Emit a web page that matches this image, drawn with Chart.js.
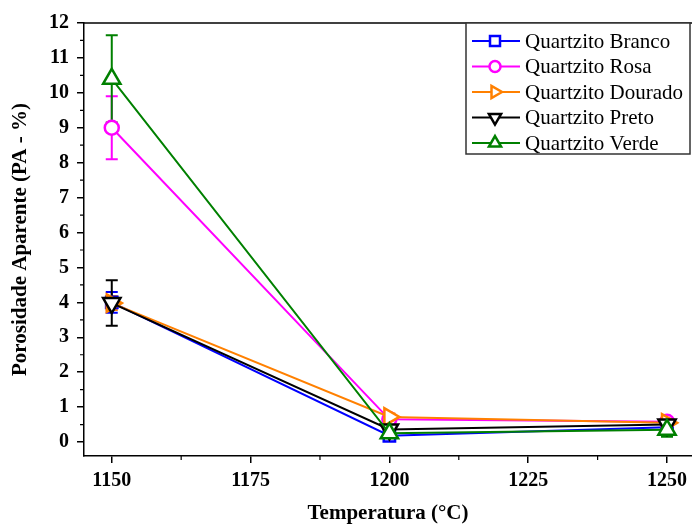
<!DOCTYPE html>
<html>
<head>
<meta charset="utf-8">
<script src="https://cdn.jsdelivr.net/npm/chart.js@4.4.1/dist/chart.umd.min.js"></script>
<style>
html, body { margin: 0; padding: 0; background: #fff; }
</style>
</head>
<body>
<canvas id="myChart" width="692" height="524"></canvas>
<script>
// temperatures (°C)
const temps = [1150, 1200, 1250];

const names = ['Quartzito Branco', 'Quartzito Rosa', 'Quartzito Dourado', 'Quartzito Preto', 'Quartzito Verde'];

// porosidade aparente (%) and error
const branco = [4.0, 0.18, 0.42];
const brancoErr = [0.3, 0.1, 0.1];
const rosa = [9.0, 0.65, 0.58];
const rosaErr = [0.9, 0.08, 0.08];
const dourado = [3.98, 0.72, 0.55];
const douradoErr = [0.2, 0.1, 0.08];
const preto = [3.98, 0.36, 0.5];
const pretoErr = [0.65, 0.1, 0.1];
const verde = [10.4, 0.25, 0.35];
const verdeErr = [1.25, 0.15, 0.2];

const xTicks = [1150, 1175, 1200, 1225, 1250];
const xMinor = [1162.5, 1187.5, 1212.5, 1237.5];
const yTicks = [0, 1, 2, 3, 4, 5, 6, 7, 8, 9, 10, 11, 12];
const yMinor = [0.5, 1.5, 2.5, 3.5, 4.5, 5.5, 6.5, 7.5, 8.5, 9.5, 10.5, 11.5];

const colors = ['#0000FF', '#FF00FF', '#FF8000', '#000000', '#008000'];
const styles = [
	{ pointStyle: 'rect', radius: 8, rotation: 0 },
	{ pointStyle: 'circle', radius: 7, rotation: 0 },
	{ pointStyle: 'triangle', radius: 10, rotation: 90 },
	{ pointStyle: 'triangle', radius: 10, rotation: 180 },
	{ pointStyle: 'triangle', radius: 10, rotation: 0 }
];
const values = [branco, rosa, dourado, preto, verde];
const errors = [brancoErr, rosaErr, douradoErr, pretoErr, verdeErr];

const serif = "'Liberation Serif', 'Times New Roman', serif";

const datasets = names.map((n, i) => ({
	label: n,
	data: temps.map((t, j) => ({ x: t, y: values[i][j] })),
	err: errors[i],
	borderColor: colors[i],
	borderWidth: 2,
	pointStyle: styles[i].pointStyle,
	pointRadius: styles[i].radius,
	pointRotation: styles[i].rotation,
	pointBorderWidth: 2.5,
	pointBackgroundColor: '#fff',
	pointBorderColor: colors[i],
	tension: 0,
	clip: false,
	order: names.length - i
}));

const errorBars = {
	id: 'errorBars',
	beforeDatasetsDraw(chart) {
		const ctx = chart.ctx;
		const xs = chart.scales.x, ys = chart.scales.y;
		chart.data.datasets.forEach(ds => {
			ctx.save();
			ctx.strokeStyle = ds.borderColor;
			ctx.lineWidth = 2;
			ds.data.forEach((p, j) => {
				const px = xs.getPixelForValue(p.x);
				const top = ys.getPixelForValue(p.y + ds.err[j]);
				const bot = ys.getPixelForValue(p.y - ds.err[j]);
				ctx.beginPath();
				ctx.moveTo(px, top); ctx.lineTo(px, bot);
				ctx.moveTo(px - 6, top); ctx.lineTo(px + 6, top);
				ctx.moveTo(px - 6, bot); ctx.lineTo(px + 6, bot);
				ctx.stroke();
			});
			ctx.restore();
		});
	}
};

function marker(ctx, style, r, rot, x, y) {
	ctx.beginPath();
	if (style === 'circle') {
		ctx.arc(x, y, r, 0, Math.PI * 2);
	} else if (style === 'rect') {
		ctx.rect(x - r, y - r, 2 * r, 2 * r);
	} else {
		let a = rot * Math.PI / 180;
		for (let k = 0; k < 3; k++) {
			const px = x + Math.sin(a) * r, py = y - Math.cos(a) * r;
			k === 0 ? ctx.moveTo(px, py) : ctx.lineTo(px, py);
			a += 2 * Math.PI / 3;
		}
		ctx.closePath();
	}
	ctx.fill();
	ctx.stroke();
}

const frame = {
	id: 'frame',
	afterDraw(chart) {
		const ctx = chart.ctx;
		const a = chart.chartArea;
		const xs = chart.scales.x, ys = chart.scales.y;
		ctx.save();
		ctx.strokeStyle = '#000';
		ctx.lineWidth = 1.5;
		// top frame
		ctx.beginPath();
		ctx.moveTo(a.left, a.top); ctx.lineTo(a.right, a.top);
		ctx.stroke();
		// minor ticks
		ctx.lineWidth = 1.2;
		ctx.beginPath();
		xMinor.forEach(v => {
			const px = xs.getPixelForValue(v);
			ctx.moveTo(px, a.bottom); ctx.lineTo(px, a.bottom + 4);
		});
		yMinor.forEach(v => {
			const py = ys.getPixelForValue(v);
			ctx.moveTo(a.left, py); ctx.lineTo(a.left - 4, py);
		});
		ctx.stroke();

		// axis titles
		ctx.fillStyle = '#000';
		ctx.font = 'bold 21px ' + serif;
		ctx.textAlign = 'center';
		ctx.textBaseline = 'middle';
		ctx.fillText('Temperatura (°C)', (a.left + a.right) / 2, 514);
		ctx.save();
		ctx.translate(21, (a.top + a.bottom) / 2);
		ctx.rotate(-Math.PI / 2);
		ctx.fillText('Porosidade Aparente (PA - %)', 0, 0);
		ctx.restore();

		// legend
		const lx = 466, ly = 23, lw = 224, lh = 131;
		ctx.fillStyle = '#fff';
		ctx.fillRect(lx, ly, lw, lh);
		ctx.strokeStyle = '#333';
		ctx.lineWidth = 1.5;
		ctx.strokeRect(lx, ly, lw, lh);
		const legR = [5, 5.5, 7, 7, 7];
		names.forEach((n, i) => {
			const y = 41 + i * 25.5;
			ctx.strokeStyle = colors[i];
			ctx.lineWidth = 2;
			ctx.beginPath();
			ctx.moveTo(472, y); ctx.lineTo(520, y);
			ctx.stroke();
			ctx.fillStyle = '#fff';
			ctx.lineWidth = 2.5;
			marker(ctx, styles[i].pointStyle, legR[i], styles[i].rotation, 495, y);
			ctx.fillStyle = '#000';
			ctx.font = '21px ' + serif;
			ctx.textAlign = 'left';
			ctx.textBaseline = 'middle';
			ctx.fillText(n, 525, y + 1);
		});
		ctx.restore();
	}
};

const ctx = document.getElementById('myChart').getContext('2d');
let myChart = new Chart(ctx, {
	type: 'line',
	data: { datasets: datasets },
	options: {
		responsive: false,
		animation: false,
		devicePixelRatio: 1,
		layout: { autoPadding: false, padding: { top: 23, right: 0, left: 0, bottom: 0 } },
		plugins: { legend: { display: false }, tooltip: { enabled: false } },
		scales: {
			x: {
				type: 'linear',
				min: 1145,
				max: 1254.5,
				afterBuildTicks: s => { s.ticks = xTicks.map(v => ({ value: v })); },
				afterFit: s => { s.height = 68; s.paddingLeft = 0; s.paddingRight = 0; },
				grid: { drawOnChartArea: false, tickLength: 7, color: '#000', lineWidth: 1.5 },
				border: { color: '#000', width: 1.5 },
				ticks: { color: '#000', padding: 6, maxRotation: 0, callback: v => String(v), font: { family: serif, size: 20, weight: 'bold' } }
			},
			y: {
				min: -0.4,
				max: 12,
				afterBuildTicks: s => { s.ticks = yTicks.map(v => ({ value: v })); },
				afterFit: s => { s.width = 84; s.paddingTop = 0; s.paddingBottom = 0; },
				grid: { drawOnChartArea: false, tickLength: 7, color: '#000', lineWidth: 1.5 },
				border: { color: '#000', width: 1.5 },
				ticks: { color: '#000', padding: 8, callback: v => String(v), font: { family: serif, size: 20, weight: 'bold' } }
			}
		}
	},
	plugins: [errorBars, frame]
});
</script>
</body>
</html>
